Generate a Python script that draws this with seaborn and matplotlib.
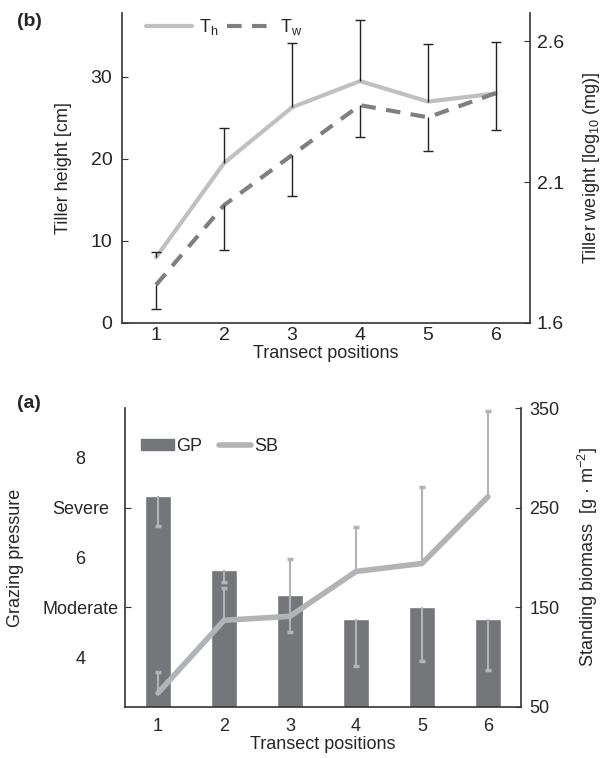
import numpy as np
import seaborn as sns
import matplotlib.pyplot as plt
from matplotlib.lines import Line2D
from matplotlib.patches import Patch

sns.set_style("white")
plt.rcParams['font.family'] = ['Liberation Sans', 'DejaVu Sans']
plt.rcParams['mathtext.fontset'] = 'custom'
plt.rcParams['mathtext.rm'] = 'Liberation Sans'
plt.rcParams['mathtext.it'] = 'Liberation Sans:italic'

# Data
positions = [1, 2, 3, 4, 5, 6]
tiller_height = [8.0, 19.5, 26.3, 29.5, 27.0, 28.0]
tiller_height_err = [0.7, 4.3, 7.8, 7.5, 7.0, 6.3]
tiller_weight = [1.735, 2.018, 2.196, 2.373, 2.330, 2.416]
tiller_weight_err = [0.085, 0.159, 0.146, 0.113, 0.120, 0.132]

grazing = [7.24, 5.75, 5.25, 4.77, 5.0, 4.77]
grazing_err = [0.61, 0.24, 0.74, 0.95, 1.08, 1.03]
biomass = [64, 137, 141, 186, 194, 261]
biomass_err = [21, 32, 58, 45, 77, 86]

gp_ticks = [4, 5, 6, 7, 8]
gp_ticklabels = ['4', 'Moderate', '6', 'Severe', '8']

light = '#c0c0c0'
dark = '#7f7f7f'
bar_col = '#75767a'
sb_col = '#b2b3b5'
fs = 13


def one_sided_err(a, x, y, err, up, color, lw, cap, capw):
    y = np.asarray(y, float)
    err = np.asarray(err, float)
    tip = y + err if up else y - err
    a.vlines(x, y, tip, color=color, lw=lw, zorder=3)
    a.plot(x, tip, ls='none', marker='_', ms=cap, mew=capw, color=color, zorder=3)


fig = plt.figure(figsize=(6.02, 7.58), dpi=100)

# ---------- (b) top panel ----------
ax = fig.add_axes([0.2027, 0.5739, 0.6777, 0.4089])
ax2 = ax.twinx()
sns.lineplot(x=positions, y=tiller_height, ax=ax, color=light, lw=3)
one_sided_err(ax, positions, tiller_height, tiller_height_err, True, '#222222', 1, 7, 1)
sns.lineplot(x=positions, y=tiller_weight, ax=ax2, color=dark, lw=3)
ax2.lines[0].set_dashes((3.5, 2.5))
one_sided_err(ax2, positions, tiller_weight, tiller_weight_err, False, '#222222', 1, 7, 1)

ax.set_xlim(0.5, 6.5)
ax.set_ylim(0, 37.8)
ax2.set_ylim(1.6, 2.70)
ax.set_yticks([0, 10, 20, 30])
ax2.set_yticks([1.6, 2.1, 2.6])
ax.set_xticks(positions)
ax.set_ylabel('Tiller height [cm]', fontsize=fs)
ax2.set_ylabel('Tiller weight [log$_{10}$ (mg)]', fontsize=fs)
ax.set_xlabel('Transect positions', fontsize=fs)
ax.yaxis.set_label_coords(-0.1225, 0.5)
ax2.yaxis.set_label_coords(1.125, 0.5)
ax.xaxis.set_label_coords(0.5, -0.07)

handles = [Line2D([], [], color=light, lw=3),
           Line2D([], [], color=dark, lw=3, dashes=(3.5, 2.5))]
ax.legend(handles, ['T$_\\mathrm{h}$', 'T$_\\mathrm{w}$'], loc='upper left',
          ncol=2, frameon=False, fontsize=fs, bbox_to_anchor=(0.02, 1.04),
          handlelength=2.5, columnspacing=0.5, handletextpad=0.4)

# ---------- (a) bottom panel ----------
bx = fig.add_axes([0.2076, 0.0673, 0.6578, 0.3944])
bx2 = bx.twinx()
sns.barplot(x=positions, y=grazing, ax=bx, native_scale=True, width=0.4,
            color=bar_col, saturation=1, errorbar=None)
one_sided_err(bx, positions, grazing, grazing_err, False, sb_col, 1.5, 5, 2.5)
sns.lineplot(x=positions, y=biomass, ax=bx2, color=sb_col, lw=4)
one_sided_err(bx2, positions, biomass, biomass_err, True, sb_col, 1.5, 5, 2.5)

bx.set_xlim(0.5, 6.5)
bx.set_ylim(3, 9)
bx2.set_ylim(50, 350)
bx.set_yticks(gp_ticks)
bx.set_yticklabels(gp_ticklabels, ha='center')
for t, v in zip(bx.yaxis.get_major_ticks(), gp_ticks):
    if v in (4, 6, 8):
        t.tick1line.set_visible(False)
bx2.set_yticks([50, 150, 250, 350])
bx.set_xticks(positions)
bx.set_xticklabels([str(p) for p in positions])
bx.set_ylabel('Grazing pressure', fontsize=fs)
bx2.set_ylabel('Standing biomass  [g · m$^{-2}$]', fontsize=fs)
bx.set_xlabel('Transect positions', fontsize=fs)
bx.yaxis.set_label_coords(-0.255, 0.5)
bx2.yaxis.set_label_coords(1.139, 0.5)
bx.xaxis.set_label_coords(0.5, -0.097)

handles = [Patch(color=bar_col), Line2D([], [], color=sb_col, lw=4, solid_capstyle='round')]
bx.legend(handles, ['GP', 'SB'], loc='upper left', ncol=2, frameon=False,
          fontsize=fs, bbox_to_anchor=(0.0, 0.955), handlelength=1.8,
          handleheight=0.6, columnspacing=0.9, handletextpad=0.15)

# styling shared
for a in (ax, bx):
    a.spines['top'].set_visible(False)
    a.spines['right'].set_visible(False)
    a.tick_params(axis='x', length=0, labelsize=fs)
ax.tick_params(axis='y', direction='in', length=4, labelsize=14, pad=7, color='#333333')
ax.tick_params(axis='x', pad=3, labelsize=14)
bx.tick_params(axis='y', direction='in', length=4, labelsize=fs, pad=32, color='#333333')
bx.tick_params(axis='x', pad=8)
for a in (ax2, bx2):
    a.spines['top'].set_visible(False)
    a.spines['left'].set_visible(False)
    a.spines['bottom'].set_visible(False)
ax2.tick_params(axis='y', direction='in', length=4, labelsize=14, pad=5, color='#333333')
bx2.tick_params(axis='y', direction='in', length=4, labelsize=fs, pad=6, color='#333333')
for a in (ax, ax2, bx, bx2):
    for s in a.spines.values():
        s.set_color('#333333')
        s.set_linewidth(1.2)

fig.text(17 / 602, 1 - 22 / 758, '(b)', fontsize=14, fontweight='bold', va='center', ha='left')
fig.text(17 / 602, 1 - 403 / 758, '(a)', fontsize=14, fontweight='bold', va='center', ha='left')

plt.savefig('out.png', dpi=100)
